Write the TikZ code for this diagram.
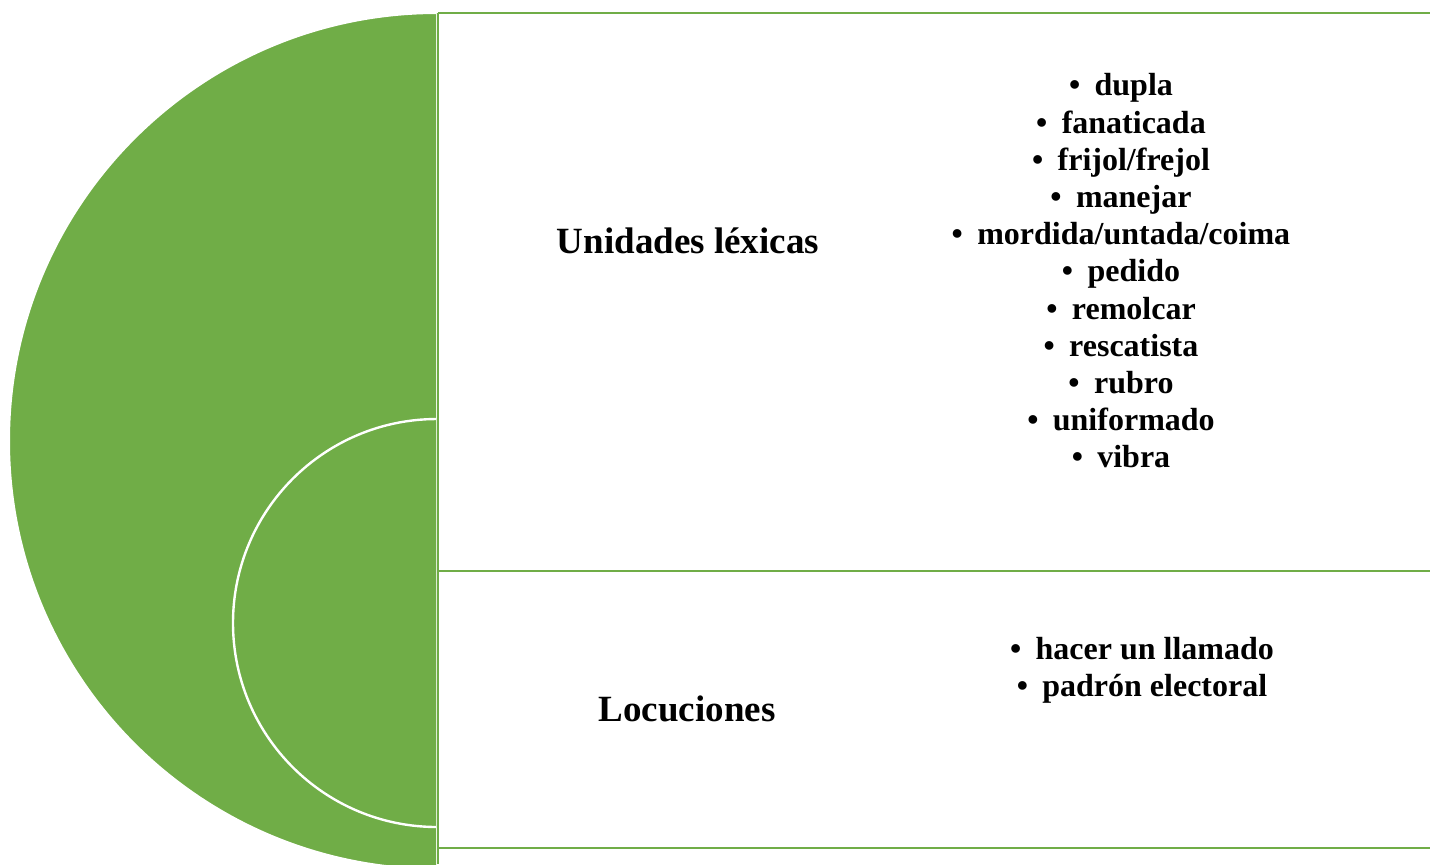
\documentclass[tikz,border=0pt]{standalone}
\usepackage{fontspec}
\setmainfont{Liberation Serif}
\usetikzlibrary{positioning}
\definecolor{accgreen}{HTML}{70AD47}
\newcommand{\bul}{\textbullet\hspace{0.45em}}

\begin{document}
\begin{tikzpicture}[
  x=0.5pt, y=-0.5pt,
  head/.style={font=\fontsize{18.5}{22}\selectfont\bfseries, inner sep=0pt},
  items/.style={align=center, font=\fontsize{16}{18.6}\selectfont\bfseries, inner sep=0pt},
  rule/.style={draw=accgreen, line width=1.4pt}
]
\useasboundingbox (0,0) rectangle (1430,864);
\clip (0,0) rectangle (1430,864);
% half discs, cut at the box edge
\begin{scope}
  \clip (0,0) rectangle (436,864);
  \filldraw[fill=accgreen, draw=white, line width=1pt] (437,441) circle[radius=428];
  \filldraw[fill=accgreen, draw=white, line width=1.2pt] (437,623) circle[radius=204];
\end{scope}
% boxes
\draw[rule] (438,13) -- (438,864);
\draw[rule] (438,13) -- (1440,13);
\draw[rule] (438,571) -- (1440,571);
\draw[rule] (438,848) -- (1440,848);
\node[head] (lex) at (688,241) {Unidades léxicas};
\node[head] (loc) at (687,709) {Locuciones};
\node[items] (lexlist) at (1121,271) {\bul dupla\\ \bul fanaticada\\ \bul frijol/frejol\\ \bul manejar\\ \bul mordida/untada/coima\\ \bul pedido\\ \bul remolcar\\ \bul rescatista\\ \bul rubro\\ \bul uniformado\\ \bul vibra};
\node[items] (loclist) at (1142,670) {\bul hacer un llamado\\ \bul padrón electoral};
\end{tikzpicture}
\end{document}
